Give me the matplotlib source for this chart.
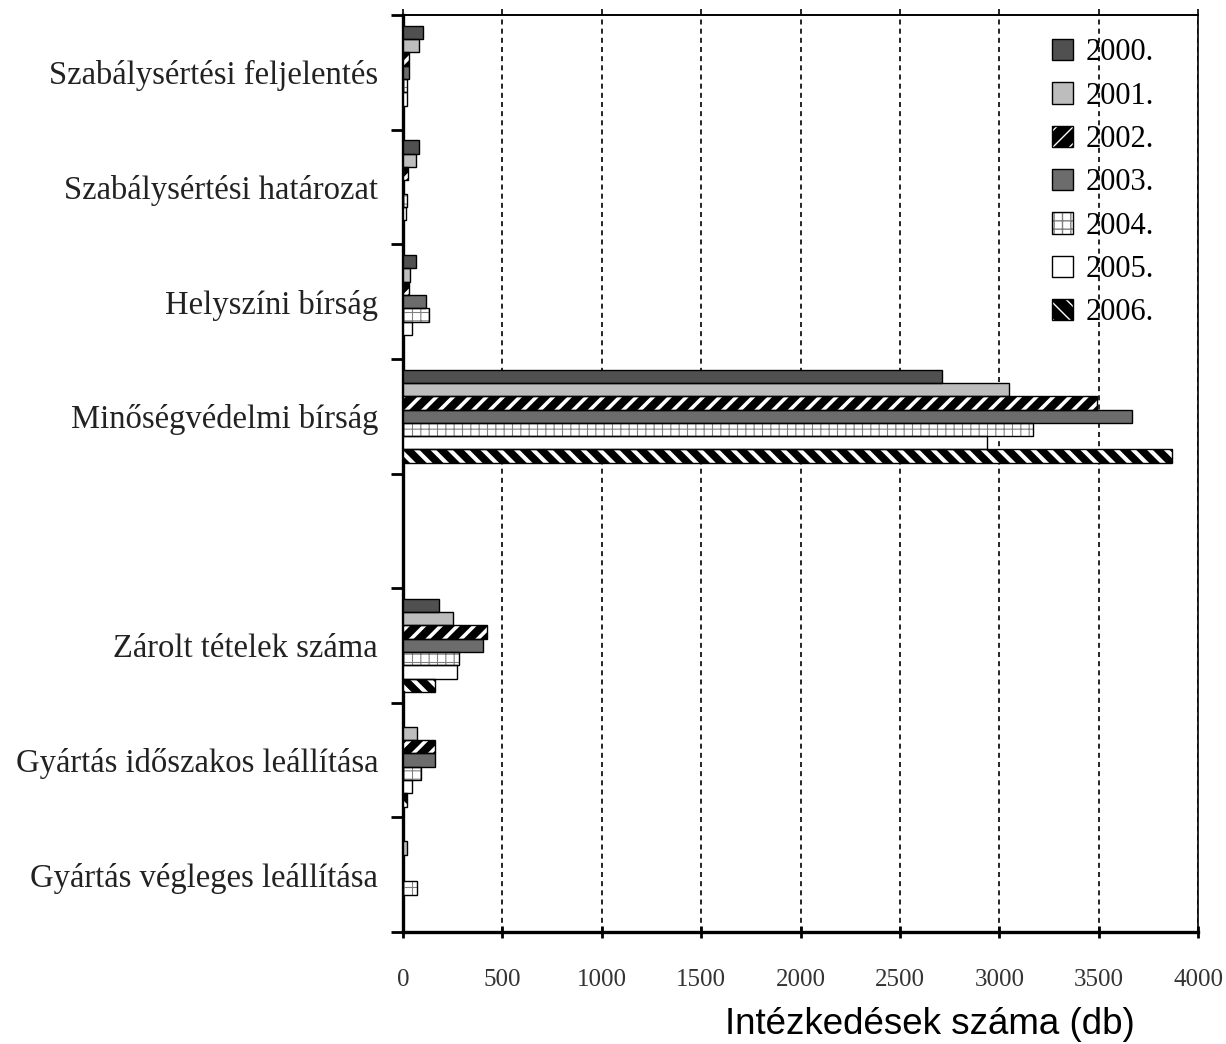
import matplotlib
matplotlib.use('Agg')
import matplotlib.pyplot as plt
import numpy as np
from matplotlib.patches import Patch

# kategóriák (a 4-es index üres sor az ábrán)
kategoriak = ['Szabálysértési feljelentés', 'Szabálysértési határozat', 'Helyszíni bírság',
              'Minőségvédelmi bírság', '', 'Zárolt tételek száma',
              'Gyártás időszakos leállítása', 'Gyártás végleges leállítása']
evek = ['2000.', '2001.', '2002.', '2003.', '2004.', '2005.', '2006.']

# értékek évenként, kategóriák sorrendjében
ertek_2000 = [100, 80, 65, 2710, 0, 180, 0, 0]
ertek_2001 = [80, 65, 35, 3050, 0, 250, 70, 20]
ertek_2002 = [30, 25, 30, 3490, 0, 425, 160, 0]
ertek_2003 = [30, 0, 115, 3670, 0, 405, 160, 0]
ertek_2004 = [20, 20, 130, 3170, 0, 280, 90, 70]
ertek_2005 = [20, 15, 45, 2940, 0, 270, 45, 0]
ertek_2006 = [0, 0, 0, 3870, 0, 160, 20, 0]
ertekek = [ertek_2000, ertek_2001, ertek_2002, ertek_2003, ertek_2004, ertek_2005, ertek_2006]

# kitöltés: (szín, mintázat színe, mintázat, mintázat vonalvastagsága)
stilusok = [
    ('#505050', 'none', None, 1),
    ('#bdbdbd', 'none', None, 1),
    ('black', 'white', '//', 2.6),
    ('#6c6c6c', 'none', None, 1),
    ('white', '#808080', '++', 0.8),
    ('white', 'none', None, 1),
    ('black', 'white', '\\\\', 3.0),
]

serif = 'Liberation Serif'
szurke = '#333333'

fig = plt.figure(figsize=(12.26, 10.44), dpi=100)
ax = fig.add_axes([403 / 1226, 1 - 932 / 1044, 795 / 1226, 917 / 1044])

y = np.arange(len(kategoriak))
h = 0.116
for j, (vals, (fc, hc, hatch, hlw)) in enumerate(zip(ertekek, stilusok)):
    pos = y + (j - 3) * h
    bars = ax.barh(pos, vals, height=h, color=fc, edgecolor=hc, hatch=hatch,
                   linewidth=0, zorder=3)
    for p in bars:
        if hasattr(p, 'set_hatch_linewidth'):
            p.set_hatch_linewidth(hlw)
    ax.barh(pos, vals, height=h, fill=False, edgecolor='black', linewidth=1, zorder=4)

ax.set_xlim(0, 4000)
ax.set_ylim(len(kategoriak) - 0.5, -0.5)

ax.set_xticks(np.arange(0, 4001, 500))
ax.set_xticklabels([str(v) for v in range(0, 4001, 500)], fontfamily=serif,
                   fontsize=18, color=szurke)
ax.tick_params(axis='x', which='major', direction='inout', length=9, width=2, pad=22)

# kis tickek a felső kereten
felso = ax.secondary_xaxis('top')
felso.set_xticks(np.arange(0, 4001, 500))
felso.set_xticklabels([])
felso.tick_params(direction='out', length=4, width=1.2)
felso.spines['top'].set_linewidth(1.2)

ax.set_yticks(np.arange(len(kategoriak) + 1) - 0.5)
ax.set_yticklabels([])
ax.set_yticks(y, minor=True)
ax.set_yticklabels(kategoriak, minor=True, fontfamily=serif, fontsize=23.5, color='#222222')
ax.tick_params(axis='y', which='major', direction='out', length=9, width=2)
ax.tick_params(axis='y', which='minor', length=0, pad=18)

ax.grid(axis='x', color='black', linestyle=(0, (3, 2.5)), linewidth=1.2, zorder=1)

for s in ['left', 'bottom']:
    ax.spines[s].set_linewidth(2.4)
for s in ['top', 'right']:
    ax.spines[s].set_linewidth(1.2)

jelek = []
for fc, hc, hatch, hlw in stilusok:
    jelek.append((Patch(facecolor=fc, edgecolor=hc, hatch=hatch, linewidth=0),
                  Patch(fill=False, edgecolor='black', linewidth=1)))
ax.legend(jelek, evek, loc='upper left', bbox_to_anchor=(1037 / 1226, 1 - 23 / 1044),
          bbox_transform=fig.transFigure, frameon=False, borderpad=0,
          handlelength=0.69, handleheight=0.69, handletextpad=0.39, labelspacing=0.47,
          prop={'family': serif, 'size': 22})

fig.text(1135 / 1226, 1 - 1025 / 1044, 'Intézkedések száma (db)', ha='right', va='center',
         fontfamily='Liberation Sans', fontsize=26.5)

fig.savefig('out.png', dpi=100)
